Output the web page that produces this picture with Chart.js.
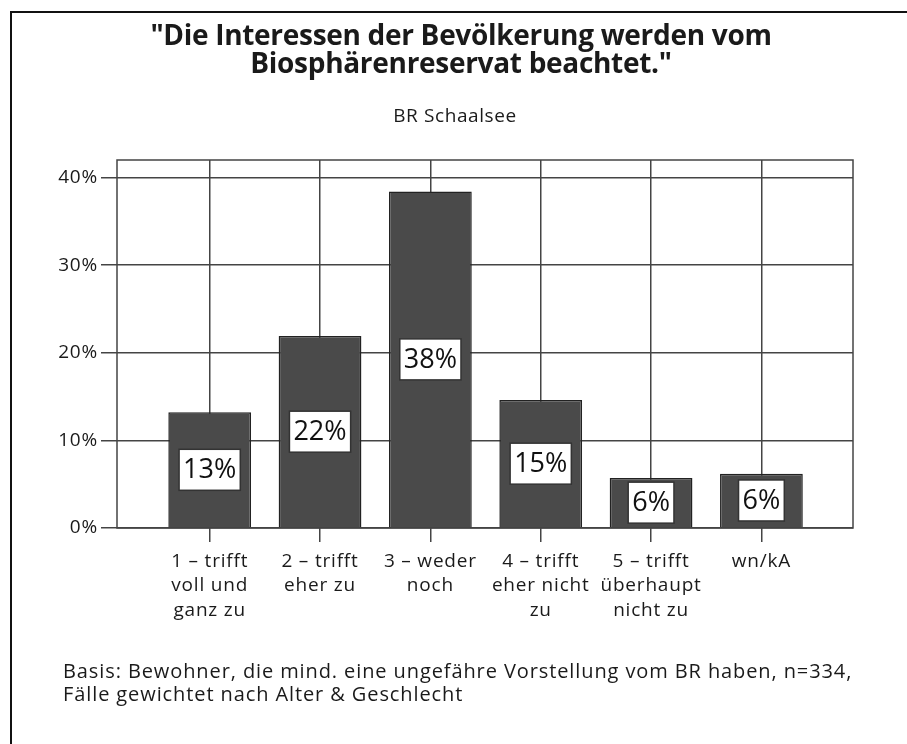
<!DOCTYPE html>
<html lang="de">
<head>
<meta charset="utf-8">
<title>Interessen der Bevölkerung – BR Schaalsee</title>
<script src="https://cdn.jsdelivr.net/npm/chart.js@4/dist/chart.umd.min.js"></script>
<style>
  html, body { margin: 0; padding: 0; background: #fff; }
  body { width: 907px; height: 744px; position: relative; overflow: hidden; font-family: "Open Sans", Lato, sans-serif; color: #1a1a1a; }
  #frame { position: absolute; left: 10px; top: 11px; right: -4px; bottom: -4px; border-left: 2px solid #111; border-top: 2px solid #111; }
  #chart { position: absolute; left: 0; top: 0; }
  .title { position: absolute; left: 0; width: 922px; top: 20px; text-align: center; font-weight: 700; font-size: 28px; line-height: 28px; letter-spacing: -0.3px; }
  .subtitle { position: absolute; left: 0; width: 910px; top: 103px; text-align: center; font-size: 19px; line-height: 24px; letter-spacing: 0.6px; }
  .footnote { position: absolute; left: 63px; top: 659px; font-size: 20px; line-height: 23px; letter-spacing: 0.9px; }
</style>
</head>
<body>
<div id="frame"></div>
<canvas id="chart" width="907" height="744"></canvas>
<div class="title">"Die Interessen der Bevölkerung werden vom<br>Biosphärenreservat beachtet."</div>
<div class="subtitle">BR Schaalsee</div>
<div class="footnote">Basis: Bewohner, die mind. eine ungefähre Vorstellung vom BR haben, n=334,<br>Fälle gewichtet nach Alter &amp; Geschlecht</div>

<script>
// Antwortkategorien (mehrzeilige Achsenbeschriftung)
const categories = [
    ['1 – trifft', 'voll und', 'ganz zu'],
    ['2 – trifft', 'eher zu'],
    ['3 – weder', 'noch'],
    ['4 – trifft', 'eher nicht', 'zu'],
    ['5 – trifft', 'überhaupt', 'nicht zu'],
    ['wn/kA']
];

// Anteile in Prozent
const shares = [13.2, 21.9, 38.4, 14.6, 5.7, 6.2];

// Prozentachse
const yTicks = [0, 10, 20, 30, 40];

const gridColor = '#444';
const textColor = '#1a1a1a';
const fontFamily = '"Open Sans", Lato, sans-serif';

// etwas gesperrte Schrift für alle Canvas-Texte
const letterSpacing = {
    id: 'letterSpacing',
    beforeDraw(chart) {
        chart.ctx.letterSpacing = '0.8px';
    }
};

// Rahmen um die Zeichenfläche
const plotFrame = {
    id: 'plotFrame',
    beforeDatasetsDraw(chart) {
        const { ctx, chartArea: a } = chart;
        ctx.save();
        ctx.strokeStyle = gridColor;
        ctx.lineWidth = 1.5;
        ctx.strokeRect(a.left, a.top, a.right - a.left, a.bottom - a.top);
        ctx.restore();
    }
};

// Weiße Wertekästchen mittig in den Balken
const valueBoxes = {
    id: 'valueBoxes',
    afterDatasetsDraw(chart) {
        const ctx = chart.ctx;
        const meta = chart.getDatasetMeta(0);
        ctx.save();
        ctx.letterSpacing = '0px';
        ctx.font = '27px ' + fontFamily;
        ctx.textAlign = 'center';
        ctx.textBaseline = 'middle';
        meta.data.forEach((bar, i) => {
            const label = Math.round(shares[i]) + '%';
            const cx = bar.x;
            const cy = (bar.y + bar.base) / 2;
            const w = ctx.measureText(label).width + 8;
            const h = 41;
            ctx.fillStyle = '#fff';
            ctx.fillRect(cx - w / 2, cy - h / 2, w, h);
            ctx.strokeStyle = '#333';
            ctx.lineWidth = 1.5;
            ctx.strokeRect(cx - w / 2, cy - h / 2, w, h);
            ctx.fillStyle = '#111';
            ctx.fillText(label, cx, cy + 1);
        });
        ctx.restore();
    }
};

new Chart(document.getElementById('chart'), {
    type: 'bar',
    data: {
        datasets: [{
            data: shares.map((v, i) => ({ x: i, y: v })),
            backgroundColor: '#4a4a4a',
            borderColor: '#222',
            borderWidth: 1.5,
            categoryPercentage: 1,
            barPercentage: 0.75
        }]
    },
    options: {
        responsive: false,
        animation: false,
        devicePixelRatio: 1,
        layout: { padding: { top: 160, right: 54, bottom: 0, left: 0 } },
        plugins: {
            legend: { display: false },
            tooltip: { enabled: false }
        },
        scales: {
            x: {
                type: 'linear',
                min: -0.84,
                max: 5.83,
                offset: false,
                afterFit(scale) { scale.height = 216; },
                grid: { offset: false, color: gridColor, lineWidth: 1.5, tickLength: 14 },
                border: { display: false },
                ticks: {
                    stepSize: 1,
                    includeBounds: false,
                    autoSkip: false,
                    maxRotation: 0,
                    padding: 7,
                    color: textColor,
                    font: { family: fontFamily, size: 19, lineHeight: 1.3 },
                    callback: (value) => categories[value] || ''
                }
            },
            y: {
                min: 0,
                max: 42,
                afterFit(scale) { scale.width = 117; },
                afterBuildTicks(scale) { scale.ticks = yTicks.map(v => ({ value: v })); },
                grid: { color: gridColor, lineWidth: 1.5, tickLength: 16 },
                border: { display: false },
                ticks: {
                    padding: 3,
                    color: textColor,
                    font: { family: fontFamily, size: 19 },
                    callback: (value) => value + '%'
                }
            }
        }
    },
    plugins: [letterSpacing, plotFrame, valueBoxes]
});
</script>
</body>
</html>
